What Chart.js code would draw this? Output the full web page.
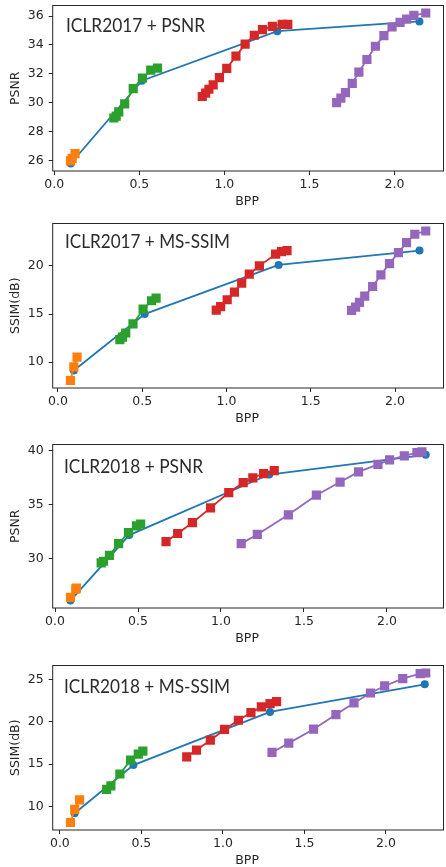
<!DOCTYPE html>
<html><head><meta charset="utf-8">
<script src="https://cdn.jsdelivr.net/npm/chart.js@4.4.1/dist/chart.umd.min.js"></script>
<style>
html,body{margin:0;padding:0;background:#fff;overflow:hidden;width:446px;height:867px;position:relative}
canvas{position:absolute;left:0}
</style></head><body>
<canvas id="c0"></canvas><canvas id="c1"></canvas><canvas id="c2"></canvas><canvas id="c3"></canvas>
<script>
// ---------- data ----------
const panelTitles = ["ICLR2017 + PSNR", "ICLR2017 + MS-SSIM", "ICLR2018 + PSNR", "ICLR2018 + MS-SSIM"];
const yLabels = ["PSNR", "SSIM(dB)", "PSNR", "SSIM(dB)"];
const xLabel = "BPP";
const xTicks = [0.0, 0.5, 1.0, 1.5, 2.0];
const yTicks1 = [26, 28, 30, 32, 34, 36];
const yTicks2 = [10, 15, 20];
const yTicks3 = [30, 35, 40];
const yTicks4 = [10, 15, 20, 25];

// panel 1: ICLR2017 + PSNR
const p1BlueX = [0.097, 0.515, 1.311, 2.147];
const p1BlueY = [25.79, 31.52, 34.95, 35.63];
const p1OrangeX = [0.095, 0.105, 0.122];
const p1OrangeY = [25.97, 26.15, 26.47];
const p1GreenX = [0.350, 0.364, 0.379, 0.414, 0.464, 0.518, 0.567, 0.607];
const p1GreenY = [28.94, 29.07, 29.37, 29.92, 30.98, 31.71, 32.26, 32.40];
const p1RedX = [0.870, 0.890, 0.909, 0.934, 0.971, 1.014, 1.068, 1.122, 1.176, 1.224, 1.282, 1.340, 1.373];
const p1RedY = [30.43, 30.66, 30.93, 31.23, 31.73, 32.38, 33.22, 34.05, 34.67, 35.06, 35.29, 35.43, 35.43];
const p1PurpleX = [1.660, 1.685, 1.712, 1.752, 1.791, 1.838, 1.888, 1.938, 1.986, 2.033, 2.072, 2.114, 2.184];
const p1PurpleY = [30.01, 30.31, 30.70, 31.34, 32.12, 32.99, 33.91, 34.65, 35.24, 35.56, 35.79, 36.05, 36.21];

// panel 2: ICLR2017 + MS-SSIM
const p2BlueX = [0.094, 0.514, 1.309, 2.145];
const p2BlueY = [9.14, 15.0, 20.10, 21.59];
const p2OrangeX = [0.074, 0.094, 0.113];
const p2OrangeY = [8.10, 9.52, 10.52];
const p2GreenX = [0.367, 0.383, 0.402, 0.445, 0.505, 0.555, 0.582];
const p2GreenY = [12.35, 12.60, 13.03, 13.97, 15.50, 16.38, 16.66];
const p2RedX = [0.939, 0.965, 1.004, 1.047, 1.090, 1.135, 1.195, 1.291, 1.326, 1.359];
const p2RedY = [15.41, 15.76, 16.48, 17.28, 18.21, 19.14, 20.00, 21.21, 21.48, 21.59];
const p2PurpleX = [1.742, 1.766, 1.789, 1.820, 1.867, 1.916, 1.967, 2.020, 2.068, 2.117, 2.182];
const p2PurpleY = [15.38, 15.72, 16.21, 16.86, 17.86, 19.07, 20.24, 21.38, 22.41, 23.28, 23.62];

// panel 3: ICLR2018 + PSNR
const p3BlueX = [0.093, 0.447, 1.291, 2.234];
const p3BlueY = [26.09, 32.15, 37.76, 39.58];
const p3OrangeX = [0.093, 0.125, 0.129];
const p3OrangeY = [26.39, 27.15, 27.24];
const p3GreenX = [0.278, 0.292, 0.328, 0.383, 0.443, 0.491, 0.516];
const p3GreenY = [29.58, 29.73, 30.27, 31.36, 32.39, 33.00, 33.18];
const p3RedX = [0.669, 0.739, 0.828, 0.937, 1.047, 1.134, 1.192, 1.257, 1.321];
const p3RedY = [31.55, 32.30, 33.30, 34.67, 36.09, 37.00, 37.45, 37.85, 38.12];
const p3PurpleX = [1.122, 1.219, 1.406, 1.575, 1.718, 1.829, 1.946, 2.016, 2.105, 2.181, 2.211];
const p3PurpleY = [31.36, 32.21, 34.03, 35.85, 37.06, 38.00, 38.70, 39.12, 39.48, 39.79, 39.85];

// panel 4: ICLR2018 + MS-SSIM
const p4BlueX = [0.091, 0.451, 1.289, 2.238];
const p4BlueY = [9.21, 14.89, 21.16, 24.41];
const p4OrangeX = [0.065, 0.091, 0.121];
const p4OrangeY = [8.12, 9.68, 10.78];
const p4GreenX = [0.287, 0.313, 0.368, 0.434, 0.481, 0.509];
const p4GreenY = [12.03, 12.43, 13.84, 15.48, 16.19, 16.54];
const p4RedX = [0.778, 0.838, 0.923, 1.010, 1.095, 1.172, 1.236, 1.289, 1.329];
const p4RedY = [15.87, 16.66, 17.83, 19.09, 20.18, 21.08, 21.75, 22.14, 22.38];
const p4PurpleX = [1.301, 1.404, 1.556, 1.693, 1.804, 1.905, 1.992, 2.103, 2.210, 2.244];
const p4PurpleY = [16.38, 17.48, 19.12, 20.85, 22.22, 23.39, 24.22, 25.08, 25.67, 25.75];

// ---------- layout / style ----------
const COLORS = {blue:'#1f77b4', orange:'#ff7f0e', green:'#2ca02c', red:'#d62728', purple:'#9467bd'};
const AX = '#262626';
const TICK_FONT = {family:'DejaVu Sans', size:12.5};
const geom = [
  {top:5,     bottom:171,   titleX:66, titleY:32.3,  titleW:139},
  {top:223.3, bottom:388.7, titleX:65, titleY:248,   titleW:165},
  {top:444.3, bottom:608.7, titleX:64, titleY:473.3, titleW:139},
  {top:665.3, bottom:830.7, titleX:64, titleY:693.3, titleW:166}
];
const LEFT = 52.7, CANVAS_W = 450, PAD_TOP = 12, XBOX = 45;

const panels = [
  {bx:p1BlueX,by:p1BlueY,ox:p1OrangeX,oy:p1OrangeY,gx:p1GreenX,gy:p1GreenY,rx:p1RedX,ry:p1RedY,px:p1PurpleX,py:p1PurpleY,yt:yTicks1},
  {bx:p2BlueX,by:p2BlueY,ox:p2OrangeX,oy:p2OrangeY,gx:p2GreenX,gy:p2GreenY,rx:p2RedX,ry:p2RedY,px:p2PurpleX,py:p2PurpleY,yt:yTicks2},
  {bx:p3BlueX,by:p3BlueY,ox:p3OrangeX,oy:p3OrangeY,gx:p3GreenX,gy:p3GreenY,rx:p3RedX,ry:p3RedY,px:p3PurpleX,py:p3PurpleY,yt:yTicks3},
  {bx:p4BlueX,by:p4BlueY,ox:p4OrangeX,oy:p4OrangeY,gx:p4GreenX,gy:p4GreenY,rx:p4RedX,ry:p4RedY,px:p4PurpleX,py:p4PurpleY,yt:yTicks4}
];

const zip = (xs, ys) => xs.map((x, i) => ({x, y: ys[i]}));

function squareSet(xs, ys, color, order) {
  return {data: zip(xs, ys), borderColor: color, backgroundColor: color, borderWidth: 1.8,
    pointStyle: 'rect', pointRadius: 6.5, pointBorderWidth: 0, pointBackgroundColor: color, order};
}

const framePlugin = {
  id: 'frame',
  afterDatasetsDraw(chart, args, opts) {
    const {ctx, chartArea: a} = chart;
    ctx.save();
    ctx.strokeStyle = AX; ctx.lineWidth = 1;
    ctx.strokeRect(a.left, a.top, a.right - a.left, a.bottom - a.top);
    ctx.restore();
  },
  afterDraw(chart, args, opts) {
    const {ctx, chartArea: a} = chart;
    ctx.save();
    ctx.fillStyle = '#2b2b2b';
    ctx.font = '18.5px Lato';
    ctx.textBaseline = 'alphabetic'; ctx.textAlign = 'left';
    const w = ctx.measureText(opts.title).width;
    ctx.save();
    ctx.translate(opts.titleX, opts.titleY);
    ctx.scale(opts.titleW / w, 1);
    ctx.fillText(opts.title, 0, 0);
    ctx.restore();
    ctx.fillStyle = AX;
    ctx.font = '12.5px "DejaVu Sans"';
    ctx.textAlign = 'center'; ctx.textBaseline = 'middle';
    ctx.fillText(xLabel, (a.left + a.right) / 2 - 1, a.bottom + 31);
    ctx.translate(15.5, (a.top + a.bottom) / 2);
    ctx.rotate(-Math.PI / 2);
    ctx.fillText(opts.yLabel, 0, 0);
    ctx.restore();
  }
};

panels.forEach((p, i) => {
  const g = geom[i];
  const cv = document.getElementById('c' + i);
  const h = (g.bottom - g.top) + PAD_TOP + XBOX;
  cv.width = CANVAS_W; cv.height = Math.round(h);
  cv.style.top = (g.top - PAD_TOP) + 'px';
  const allX = [].concat(p.bx, p.ox, p.gx, p.rx, p.px);
  const allY = [].concat(p.by, p.oy, p.gy, p.ry, p.py);
  const xmin = Math.min(...allX), xmax = Math.max(...allX);
  const ymin = Math.min(...allY), ymax = Math.max(...allY);
  const mx = (xmax - xmin) * 0.05, my = (ymax - ymin) * 0.05;
  new Chart(cv, {
    type: 'line',
    data: {datasets: [
      {data: zip(p.bx, p.by), borderColor: COLORS.blue, backgroundColor: COLORS.blue, borderWidth: 1.8,
        pointStyle: 'circle', pointRadius: 4, pointBorderWidth: 0, pointBackgroundColor: COLORS.blue, order: 5},
      squareSet(p.ox, p.oy, COLORS.orange, 4),
      squareSet(p.gx, p.gy, COLORS.green, 3),
      squareSet(p.rx, p.ry, COLORS.red, 2),
      squareSet(p.px, p.py, COLORS.purple, 1)
    ]},
    options: {
      responsive: false, animation: false, devicePixelRatio: 1,
      layout: {padding: {top: PAD_TOP, right: CANVAS_W - 448.2, bottom: 0, left: 0}},
      plugins: {legend: {display: false}, tooltip: {enabled: false},
        frame: {title: panelTitles[i], yLabel: yLabels[i], titleX: g.titleX, titleY: g.titleY - (g.top - PAD_TOP), titleW: g.titleW}},
      elements: {line: {tension: 0}},
      scales: {
        x: {type: 'linear', min: xmin - mx, max: xmax + mx,
          afterBuildTicks: s => { s.ticks = xTicks.map(v => ({value: v})); },
          afterFit: s => { s.height = XBOX; },
          grid: {display: true, drawOnChartArea: false, drawTicks: true, tickLength: 4, color: AX},
          border: {display: false},
          ticks: {font: TICK_FONT, color: AX, padding: 2, maxRotation: 0, autoSkip: false,
            callback: v => v.toFixed(1)}},
        y: {type: 'linear', min: ymin - my, max: ymax + my,
          afterBuildTicks: s => { s.ticks = p.yt.map(v => ({value: v})); },
          afterFit: s => { s.width = LEFT; },
          grid: {display: true, drawOnChartArea: false, drawTicks: true, tickLength: 4, color: AX},
          border: {display: false},
          ticks: {font: TICK_FONT, color: AX, padding: 5, autoSkip: false, callback: v => String(v)}}
      }
    },
    plugins: [framePlugin]
  });
});
</script>
</body></html>
